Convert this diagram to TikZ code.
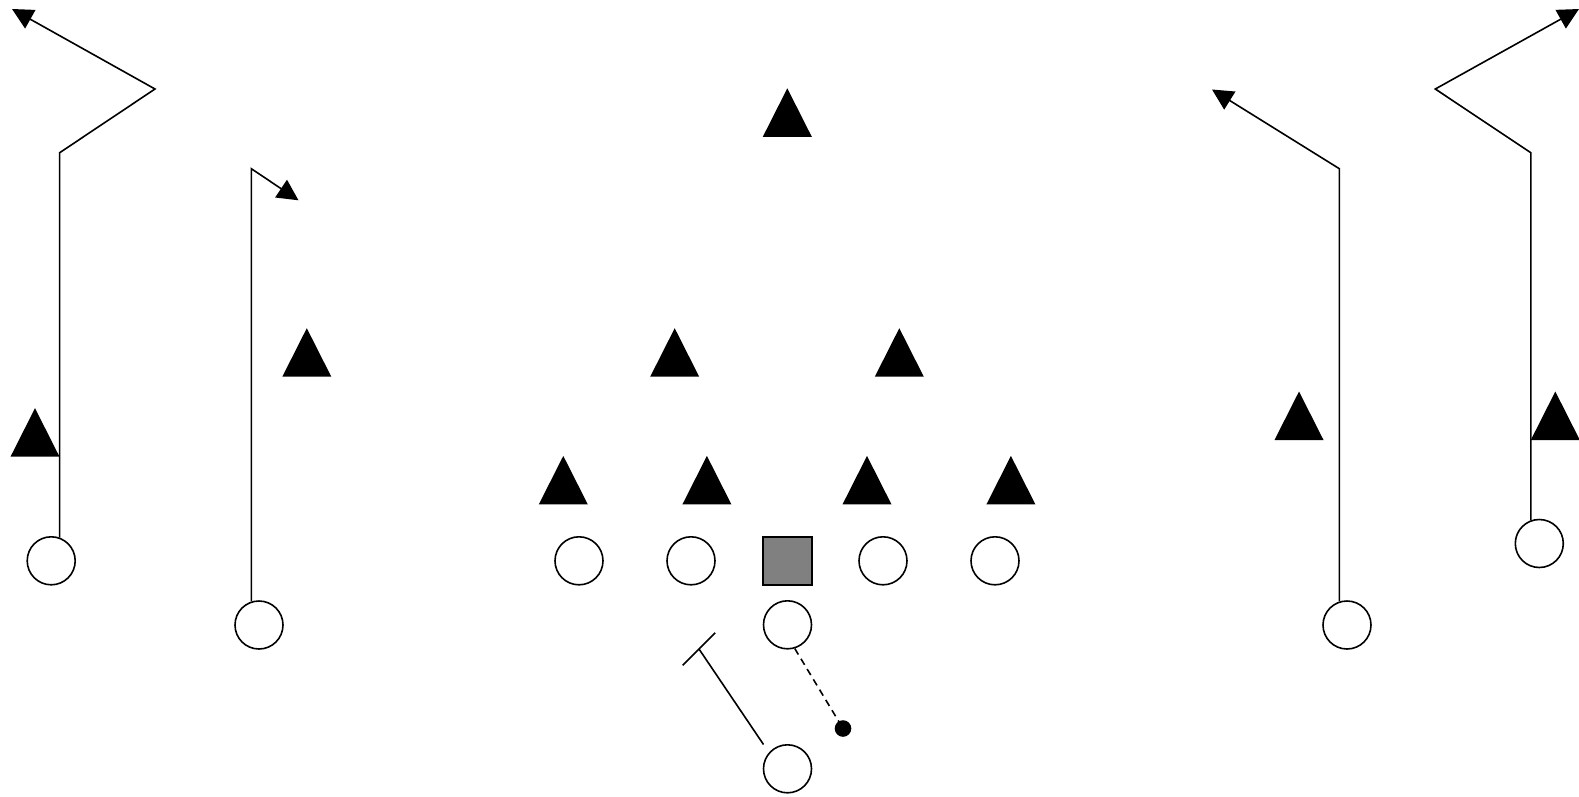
\documentclass[tikz,border=0pt]{standalone}
\usetikzlibrary{arrows.meta}
\definecolor{centergray}{RGB}{128,128,128}
\tikzset{
  x=1pt, y=-1pt,
  offense/.style={circle, draw=black, line width=1.6pt, fill=white, minimum size=48pt, inner sep=0pt},
  centerbox/.style={rectangle, draw=black, line width=1.6pt, fill=centergray, minimum size=48.5pt, inner sep=0pt},
  route/.style={draw=black, line width=1.6pt, line join=miter},
  routearrow/.style={route, -{Triangle[length=21pt,width=21pt]}},
  motion/.style={draw=black, line width=1.6pt, dash pattern=on 7pt off 5pt},
  defender/.pic={\fill[black] (-24.5,0) -- (0,-48.5) -- (24.5,0) -- cycle;}
}
\begin{document}
\begin{tikzpicture}
\useasboundingbox (0,0) rectangle (1579,796);

% defenders (base centre)
\pic at (787.3,136.8) {defender};
\pic at (306.8,376.7) {defender};
\pic at (674.7,376.7) {defender};
\pic at (899.3,376.7) {defender};
\pic at (563.3,504.4) {defender};
\pic at (706.9,504.4) {defender};
\pic at (867.0,504.4) {defender};
\pic at (1010.9,504.4) {defender};
\pic at (1299.0,440.0) {defender};
\pic at (35.0,456.7) {defender};
\pic at (1555.3,440.0) {defender};

% offense
\node[offense] (wr1) at (51.2,560.8) {};
\node[offense] (wr2) at (259.0,625.0) {};
\node[offense] (lg)  at (579.0,560.8) {};
\node[offense] (lt)  at (691.0,560.8) {};
\node[centerbox] (c) at (787.5,561.0) {};
\node[offense] (rg)  at (883.0,560.8) {};
\node[offense] (rt)  at (995.0,560.8) {};
\node[offense] (qb)  at (787.5,624.8) {};
\node[offense] (rb)  at (787.5,768.8) {};
\node[offense] (wr3) at (1347.0,625.0) {};
\node[offense] (wr4) at (1539.3,543.5) {};

% route coordinates
\coordinate (a1) at (59.3,152.7);
\coordinate (a2) at (155.0,89.0);
\coordinate (a3) at (12.0,9.0);
\coordinate (b1) at (251.0,168.7);
\coordinate (b2) at (298.5,200.3);
\coordinate (c1) at (1339.3,168.7);
\coordinate (c2) at (1212.0,89.5);
\coordinate (d1) at (1531.0,152.7);
\coordinate (d2) at (1435.3,89.0);
\coordinate (d3) at (1579.0,9.0);
\coordinate (rbs) at (763.5,744.5);
\coordinate (blk) at (699.0,649.0);
\coordinate (bar1) at (682.7,665.3);
\coordinate (bar2) at (715.2,632.8);
\coordinate (mot) at (843.0,728.5);

% routes
\draw[routearrow] (wr1.70) -- (wr1.70 |- a1) -- (a2) -- (a3);
\draw[routearrow] (wr2.108) -- (wr2.108 |- b1) -- (b2);
\draw[routearrow] (wr3.108) -- (wr3.108 |- c1) -- (c2);
\draw[routearrow] (wr4.110) -- (wr4.110 |- d1) -- (d2) -- (d3);

% backfield
\draw[route] (rbs) -- (blk);
\draw[route] (bar1) -- (bar2);
\draw[motion] (qb.-73) -- (mot);
\fill[black] (mot) circle (8.3pt);
\end{tikzpicture}
\end{document}
